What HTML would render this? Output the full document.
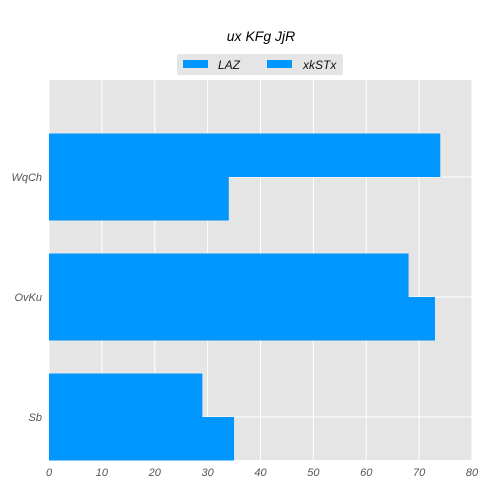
<!DOCTYPE html>
<html><head><meta charset="utf-8"><style>
body{margin:0;background:#fff;font-family:"Liberation Sans",sans-serif;}
text{font-family:"Liberation Sans",sans-serif;font-style:italic;}
</style></head><body>
<svg id="c" width="488" height="488">
<rect x="49" y="80" width="423" height="380" fill="#e5e5e5"/>
<g id="grid"></g><g id="bars"></g><g id="axes"></g>
<text x="261" y="41" text-anchor="middle" font-size="14" fill="#000">ux KFg JjR</text>
<g>
<rect x="177" y="54" width="166" height="21" rx="2" fill="#e5e5e5"/>
<rect x="183" y="60" width="25" height="8" fill="#0096ff"/>
<text x="218" y="69" font-size="12" fill="#111">LAZ</text>
<rect x="267" y="60" width="25" height="8" fill="#0096ff"/>
<text x="303" y="69" font-size="12" fill="#111">xkSTx</text>
</g>
</svg>
<script>
const categories=["Sb","OvKu","WqCh"];
const seriesLAZ=[29,68,74];
const seriesXkSTx=[35,73,34];
const xTicks=[0,10,20,30,40,50,60,70,80];
const NS="http://www.w3.org/2000/svg";
const X0=49,X1=472,XMAX=80;
const xs=v=>X0+(X1-X0)*v/XMAX;
const yc=i=>417-120*i;
const BH=43.5;
function mk(t,a,p){const e=document.createElementNS(NS,t);for(const k in a)e.setAttribute(k,a[k]);document.getElementById(p).appendChild(e);return e;}
xTicks.forEach(v=>{
 const l=mk('line',{x1:xs(v),x2:xs(v),y1:80,y2:460,stroke:'#fff','stroke-width':1},'grid');
 
 
 const t=mk('text',{x:xs(v),y:476,'text-anchor':'middle','font-size':11,fill:'#555'},'axes');
 t.textContent=v;
 
 
});
categories.forEach((c,i)=>{
 const g=mk('line',{x1:X0,x2:X1,y1:yc(i),y2:yc(i),stroke:'#fff','stroke-width':1},'grid');
 
 
 const t=mk('text',{x:42,y:yc(i)+4,'text-anchor':'end','font-size':11,fill:'#555'},'axes');
 t.textContent=c;
 
 
 const b1=mk('rect',{x:X0,y:yc(i)-BH,width:xs(seriesLAZ[i])-X0,height:BH,fill:'#0096ff'},'bars');
 
 
 const b2=mk('rect',{x:X0,y:yc(i),width:xs(seriesXkSTx[i])-X0,height:BH,fill:'#0096ff'},'bars');
 
 
});
</script>
</body></html>
